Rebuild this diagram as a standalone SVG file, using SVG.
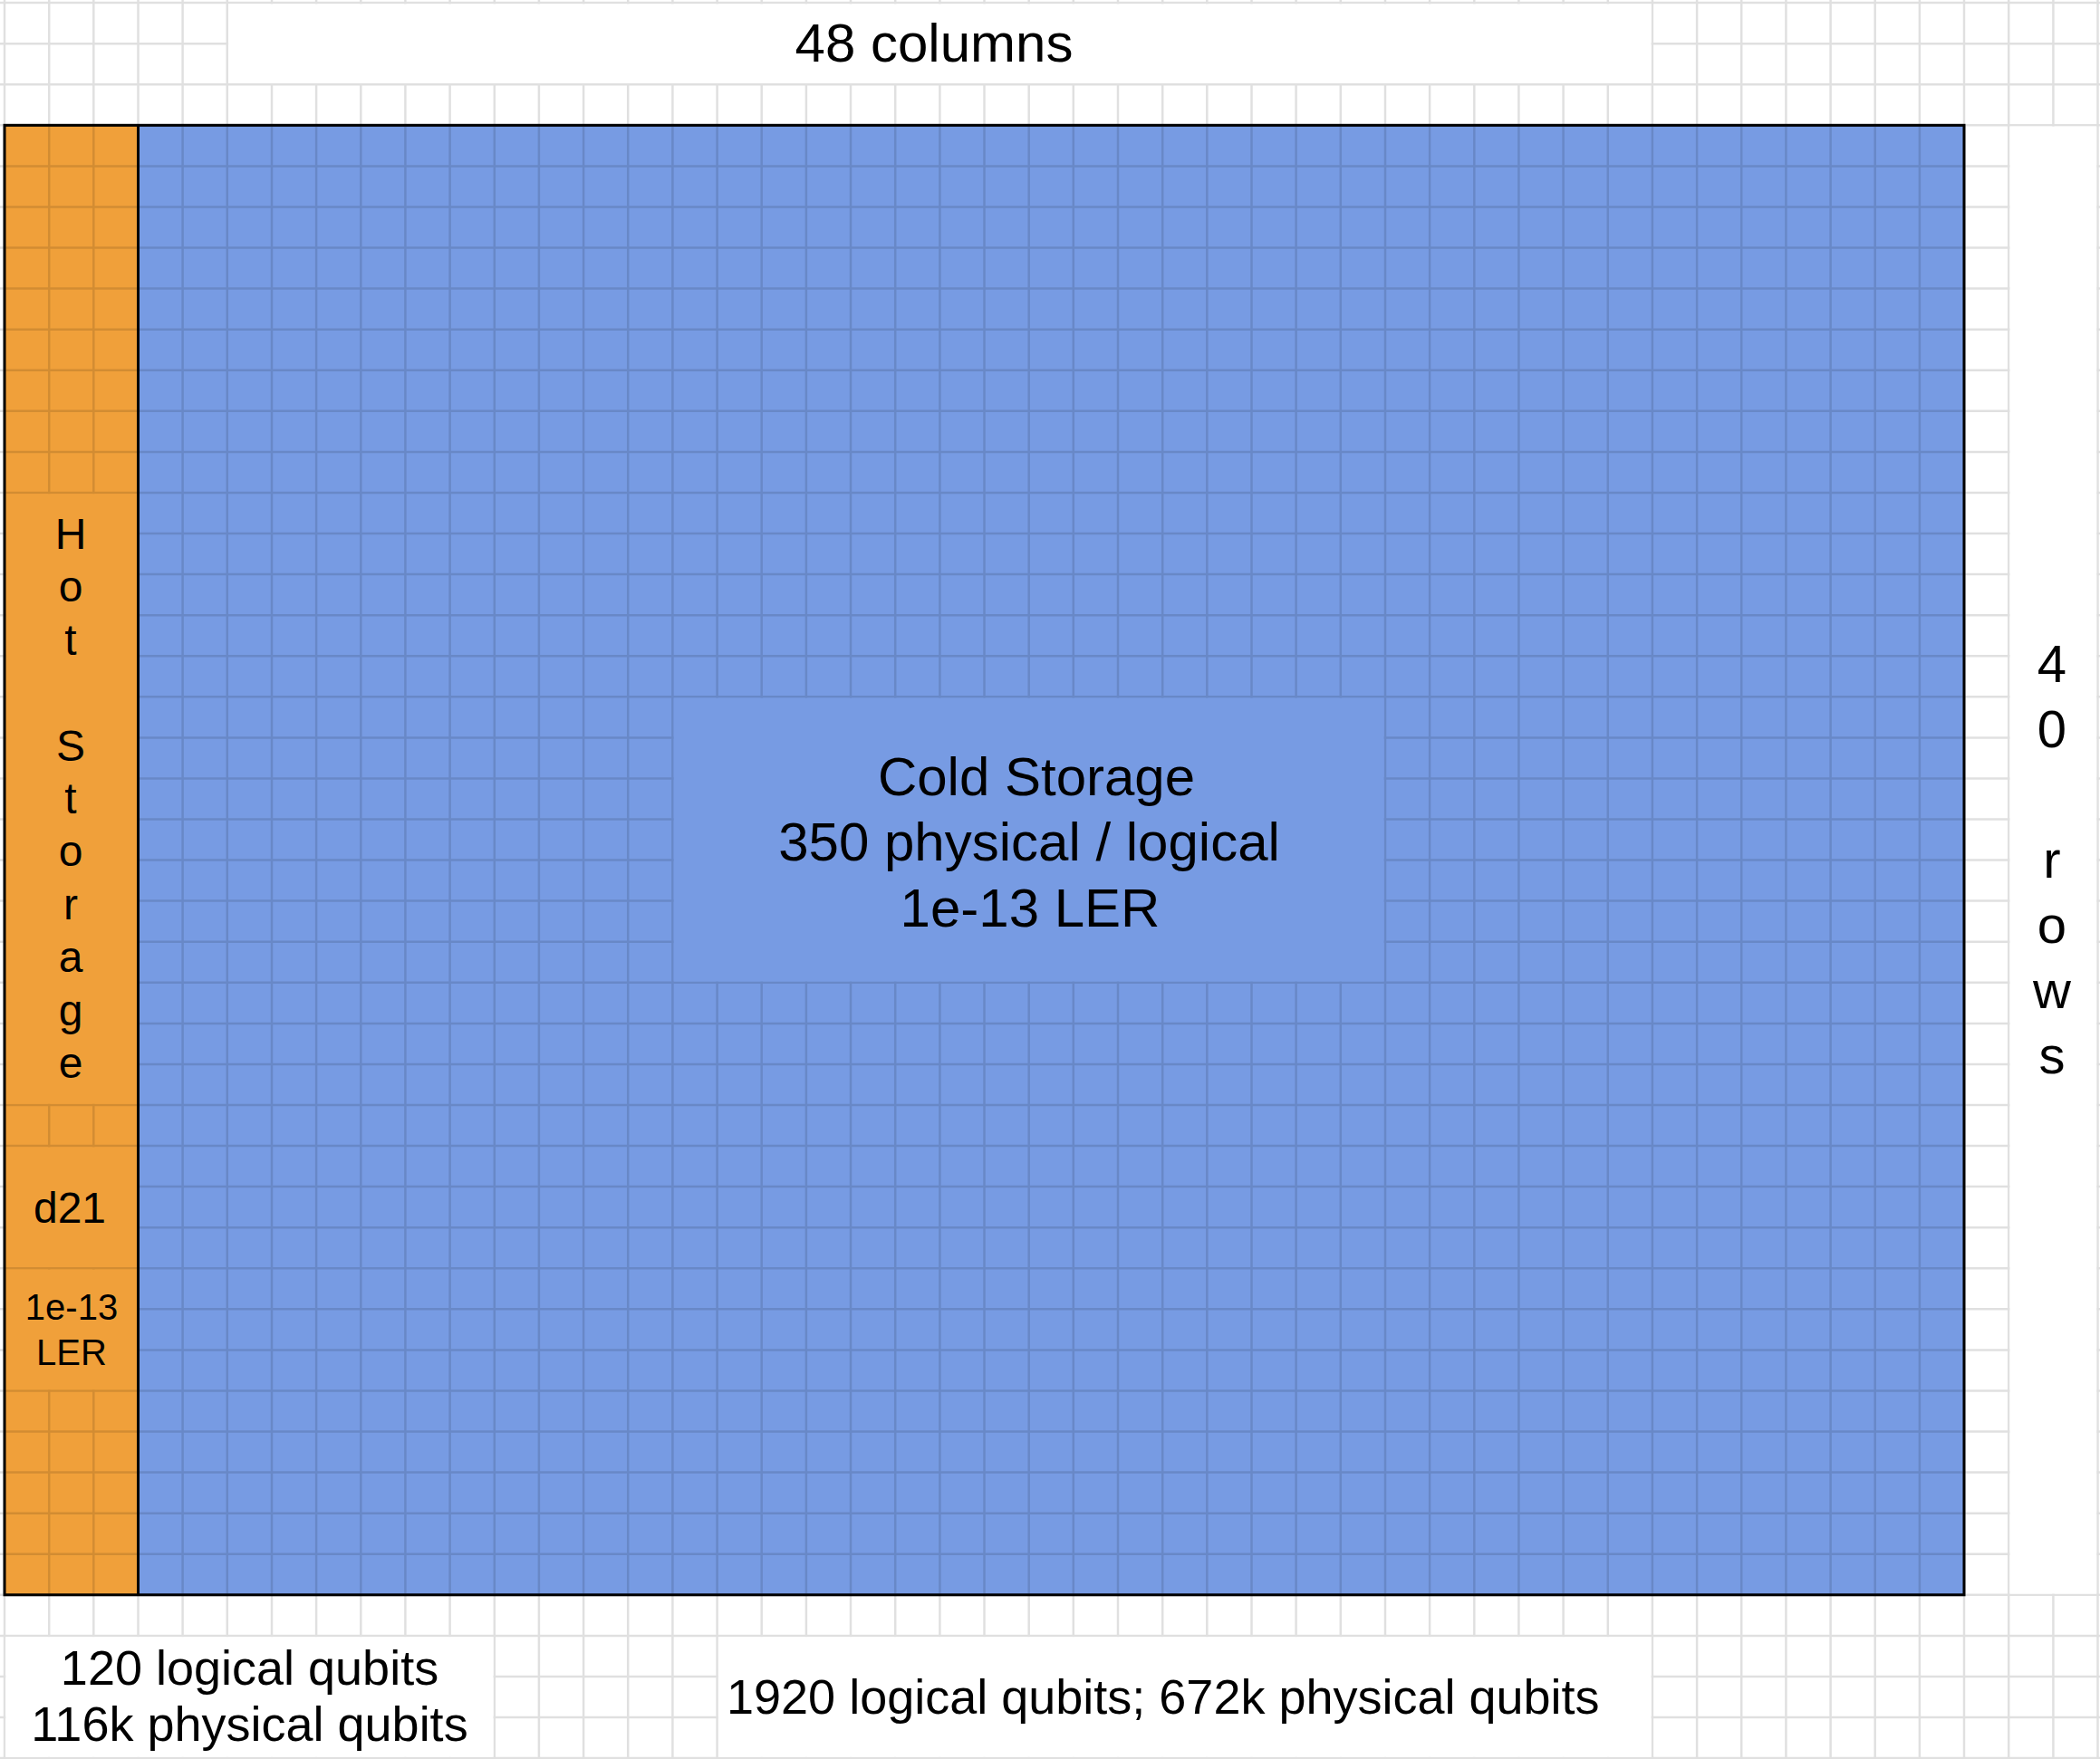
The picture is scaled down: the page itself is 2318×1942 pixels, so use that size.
<svg xmlns="http://www.w3.org/2000/svg" width="2318" height="1942" viewBox="0 0 2318 1942">
<style>
.t{font-family:"Liberation Sans",Arial,sans-serif;fill:#000}
.grid{fill:none;stroke:#000;stroke-opacity:0.12;stroke-width:2.5}
.hot{fill:#f0a03a}
.cold{fill:#779be3}
.blank{fill:#fff}
.border{fill:none;stroke:#000;stroke-width:3}
</style>
<rect width="2318" height="1942" fill="#fff"/>
<g id="regions">
<rect class="hot" x="5" y="138.3" width="147.5" height="1622.5"/>
<rect class="cold" x="152.5" y="138.3" width="2015.5" height="1622.5"/>
</g>
<g id="grid">
<path class="grid" d="M5 0V1942M54.2 0V1942M103.3 0V1942M152.5 0V1942M201.6 0V1942M250.8 0V1942M300 0V1942M349.1 0V1942M398.3 0V1942M447.4 0V1942M496.6 0V1942M545.8 0V1942M594.9 0V1942M644.1 0V1942M693.2 0V1942M742.4 0V1942M791.6 0V1942M840.7 0V1942M889.9 0V1942M939 0V1942M988.2 0V1942M1037.4 0V1942M1086.5 0V1942M1135.7 0V1942M1184.8 0V1942M1234 0V1942M1283.2 0V1942M1332.3 0V1942M1381.5 0V1942M1430.6 0V1942M1479.8 0V1942M1529 0V1942M1578.1 0V1942M1627.3 0V1942M1676.4 0V1942M1725.6 0V1942M1774.8 0V1942M1823.9 0V1942M1873.1 0V1942M1922.2 0V1942M1971.4 0V1942M2020.6 0V1942M2069.7 0V1942M2118.9 0V1942M2168 0V1942M2217.2 0V1942M2266.4 0V1942M2315.5 0V1942
M0 3.1H2318M0 48.2H2318M0 93.2H2318M0 138.3H2318M0 183.4H2318M0 228.5H2318M0 273.5H2318M0 318.6H2318M0 363.7H2318M0 408.7H2318M0 453.8H2318M0 498.9H2318M0 543.9H2318M0 589H2318M0 634.1H2318M0 679.2H2318M0 724.2H2318M0 769.3H2318M0 814.4H2318M0 859.4H2318M0 904.5H2318M0 949.6H2318M0 994.6H2318M0 1039.7H2318M0 1084.8H2318M0 1129.9H2318M0 1174.9H2318M0 1220H2318M0 1265.1H2318M0 1310.1H2318M0 1355.2H2318M0 1400.3H2318M0 1445.3H2318M0 1490.4H2318M0 1535.5H2318M0 1580.6H2318M0 1625.6H2318M0 1670.7H2318M0 1715.8H2318M0 1760.8H2318M0 1805.9H2318M0 1851H2318M0 1896H2318M0 1941.1H2318"/>
</g>
<g id="header-columns">
<rect class="blank" x="252.1" y="4.4" width="1570.5" height="87.5"/>
<text class="t" x="1031" y="68" font-size="60" text-anchor="middle">48 columns</text>
</g>
<g id="header-rows">
<rect class="blank" x="2218.5" y="139.6" width="95.7" height="1619.9"/>
<text class="t" font-size="58" text-anchor="middle">
<tspan x="2265" y="753">4</tspan><tspan x="2265" y="825">0</tspan><tspan x="2265" y="969">r</tspan><tspan x="2265" y="1041">o</tspan><tspan x="2265" y="1113">w</tspan><tspan x="2265" y="1185">s</tspan>
</text>
</g>
<g id="hot-storage">
<rect class="hot" x="6.3" y="545.2" width="144.9" height="673.5"/>
<text class="t" font-size="48" text-anchor="middle">
<tspan x="78" y="606">H</tspan><tspan x="78" y="664.4">o</tspan><tspan x="78" y="722.8">t</tspan><tspan x="78" y="839.6">S</tspan><tspan x="78" y="898">t</tspan><tspan x="78" y="956.4">o</tspan><tspan x="78" y="1014.8">r</tspan><tspan x="78" y="1073.2">a</tspan><tspan x="78" y="1131.6">g</tspan><tspan x="78" y="1190">e</tspan>
</text>
</g>
<g id="hot-distance">
<rect class="hot" x="6.3" y="1266.4" width="144.9" height="132.6"/>
<text class="t" x="77" y="1350" font-size="48" text-anchor="middle">d21</text>
</g>
<g id="hot-ler">
<rect class="hot" x="6.3" y="1401.6" width="144.9" height="132.6"/>
<text class="t" font-size="40" text-anchor="middle"><tspan x="79" y="1457">1e-13</tspan><tspan x="79" y="1507">LER</tspan></text>
</g>
<g id="cold-storage">
<rect class="cold" x="743.7" y="770.6" width="783.9" height="312.9"/>
<text class="t" font-size="60" text-anchor="middle"><tspan x="1144" y="877.5">Cold Storage</tspan><tspan x="1136" y="950">350 physical / logical</tspan><tspan x="1137" y="1022.5">1e-13 LER</tspan></text>
</g>
<g id="borders">
<rect class="border" x="5" y="138.3" width="2163" height="1622.5"/>
<line x1="152.5" y1="138.3" x2="152.5" y2="1760.8" stroke="#000" stroke-width="3"/>
</g>
<g id="footer-hot">
<rect class="blank" x="6.3" y="1807.2" width="538.2" height="132.6"/>
<text class="t" font-size="54" text-anchor="middle"><tspan x="275.5" y="1860">120 logical qubits</tspan><tspan x="275.5" y="1922">116k physical qubits</tspan></text>
</g>
<g id="footer-cold">
<rect class="blank" x="792.9" y="1807.2" width="1029.7" height="132.6"/>
<text class="t" x="802" y="1892" font-size="54">1920 logical qubits; 672k physical qubits</text>
</g>
</svg>
